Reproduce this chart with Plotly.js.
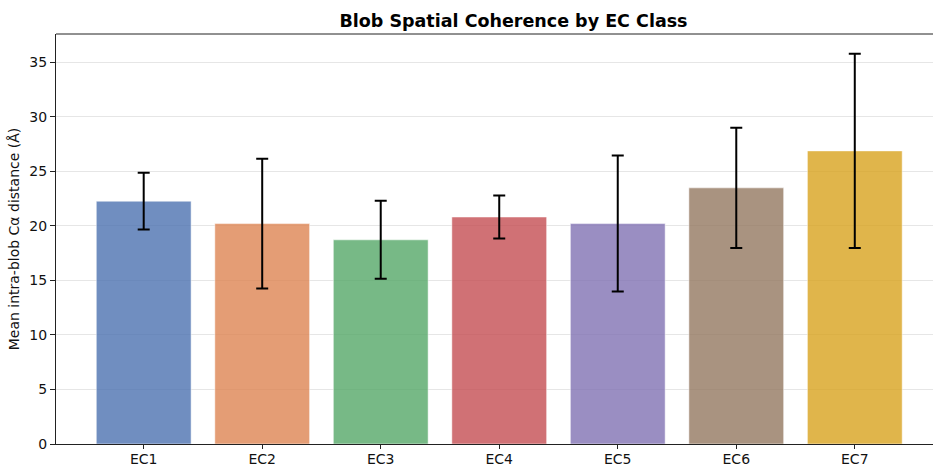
<!DOCTYPE html>
<html>
<head>
<meta charset="utf-8">
<script src="https://cdn.plot.ly/plotly-3.0.1.min.js"></script>
<style>html,body{margin:0;padding:0;background:#fff;}#chart{width:933px;height:466px;}</style>
</head>
<body>
<div id="chart"></div>
<script>
const categories = ["EC1", "EC2", "EC3", "EC4", "EC5", "EC6", "EC7"];
const meanDistance = [22.25, 20.2, 18.71, 20.8, 20.2, 23.47, 26.86];
const errDistance = [2.6, 5.95, 3.57, 1.97, 6.23, 5.5, 8.9];
const barColors = [
  "rgba(76,114,176,0.8)",
  "rgba(221,132,82,0.8)",
  "rgba(85,168,104,0.8)",
  "rgba(196,78,82,0.8)",
  "rgba(129,114,179,0.8)",
  "rgba(147,120,96,0.8)",
  "rgba(216,163,30,0.8)"
];

const font = "DejaVu Sans, sans-serif";
const trace = {
  type: "bar",
  x: categories,
  y: meanDistance,
  width: 0.8,
  marker: {color: barColors, line: {color: "rgba(255,255,255,0.5)", width: 1}},
  error_y: {type: "data", array: errDistance, visible: true, color: "#000", thickness: 2, width: 6}
};

const layout = {
  width: 933, height: 466,
  margin: {l: 56, r: 0, t: 34, b: 22},
  paper_bgcolor: "#fff", plot_bgcolor: "#fff",
  font: {family: font, size: 14, color: "#111"},
  title: {text: "<b>Blob Spatial Coherence by EC Class</b>", font: {family: font, size: 17.5, color: "#000"},
          xref: "container", x: 513.5/933, xanchor: "center", yref: "container", y: 1 - 21/466, yanchor: "middle"},
  bargap: 0.2,
  showlegend: false,
  xaxis: {range: [-0.74, 6.66], showline: true, linecolor: "#222", linewidth: 1, ticks: "outside", ticklen: 4, tickcolor: "#222",
          showgrid: false, zeroline: false, ticklabelstandoff: -2, tickfont: {family: font, size: 14, color: "#111"}},
  yaxis: {range: [0, 37.57], showline: true, linecolor: "#222", linewidth: 1, ticks: "outside", ticklen: 5, tickcolor: "#222",
          tickvals: [0, 5, 10, 15, 20, 25, 30, 35], showgrid: true, gridcolor: "#e6e6e6", gridwidth: 1, zeroline: false,
          tickfont: {family: font, size: 14, color: "#111"},
          title: {text: "Mean intra-blob Cα distance (Å)", font: {family: font, size: 14, color: "#111"}, standoff: 6}},
  shapes: [{type: "line", xref: "paper", yref: "paper", x0: 0, x1: 1, y0: 1, y1: 1, line: {color: "#222", width: 1}}]
};

Plotly.newPlot("chart", [trace], layout, {displayModeBar: false, staticPlot: true});
</script>
</body>
</html>
